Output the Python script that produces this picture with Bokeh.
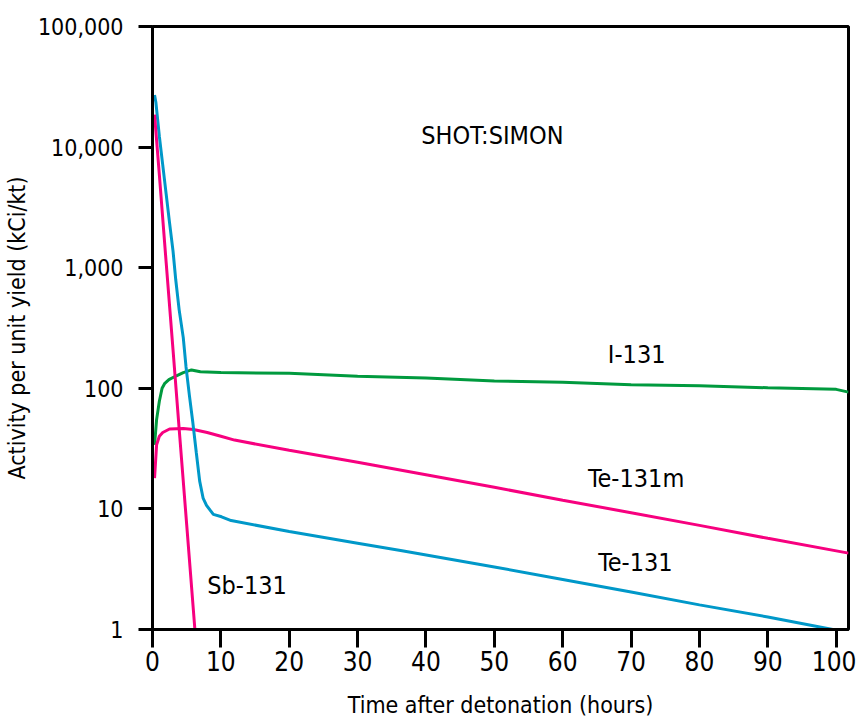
from bokeh.plotting import figure
from bokeh.models import Range1d, FixedTicker, NumeralTickFormatter, Label
from bokeh.embed import file_html
from bokeh.resources import INLINE

# ---- data ----
i131_t = [0.3, 0.6, 1.0, 1.4, 1.8, 2.4, 3.5, 4.5, 5.7, 7.0, 10, 20, 30, 40, 50, 60, 70, 80, 90, 100, 101.8]
i131_v = [34, 55, 78, 100, 110, 118, 127, 135, 142, 137, 135, 133, 126, 122, 115, 112, 107, 105, 101, 98, 93]

te131m_t = [0.3, 0.6, 1.0, 1.5, 2.5, 4.5, 6.0, 8.0, 10, 12, 20, 30, 40, 50, 60, 70, 80, 90, 101.8]
te131m_v = [18, 34, 40, 43, 46, 46.5, 45.5, 43, 40, 37.2, 30.6, 24.4, 19.2, 15.1, 11.8, 9.3, 7.3, 5.7, 4.3]

te131_t = [0.3, 0.5, 1.0, 1.5, 2.0, 2.5, 3.0, 3.4, 3.9, 4.5, 4.9, 5.4, 5.9, 6.4, 6.9, 7.4, 7.9, 8.4, 8.9, 10.1, 11.5, 20, 30, 36.5, 50, 60, 70, 80, 90, 99.5]
te131_v = [27000, 23400, 12300, 7080, 4070, 2340, 1380, 794, 447, 263, 151, 87, 52, 29.5, 17, 12.3, 10.7, 9.8, 9.0, 8.6, 8.0, 6.5, 5.2, 4.5, 3.3, 2.6, 2.05, 1.6, 1.27, 1.0]

sb131_t = [0.3, 1.0, 2.0, 3.0, 4.0, 5.0, 6.2]
sb131_v = [18600, 5900, 1100, 209, 39, 7.4, 1.0]

x_ticks = [0, 10, 20, 30, 40, 50, 60, 70, 80, 90, 100]
y_ticks = [1, 10, 100, 1000, 10000, 100000]

FONT = "DejaVu Sans Condensed, Liberation Sans Narrow, Liberation Sans"
GREEN = "#009a3e"
PINK = "#f7007f"
BLUE = "#0098c9"

p = figure(width=856, height=721, output_backend="svg", toolbar_location=None,
           y_axis_type="log", x_range=Range1d(0, 101.8), y_range=Range1d(1, 100000),
           min_border_left=151, min_border_top=26, min_border_right=8, min_border_bottom=92)
p.background_fill_color = "white"
p.border_fill_color = "white"
p.outline_line_color = "black"
p.outline_line_width = 3
p.grid.visible = False

for ax in (p.xaxis[0], p.yaxis[0]):
    ax.axis_line_width = 3
    ax.major_tick_line_width = 3
    ax.major_tick_in = 0
    ax.minor_tick_line_color = None
    ax.major_label_text_font = FONT
    ax.axis_label_text_font = FONT
    ax.axis_label_text_font_style = "normal"
    ax.major_label_text_color = "black"
    ax.axis_label_text_color = "black"

p.xaxis.ticker = FixedTicker(ticks=x_ticks)
p.xaxis.major_tick_out = 18
p.xaxis.major_label_standoff = 3
p.xaxis.major_label_text_font_size = "26px"
p.xaxis.axis_label = "Time after detonation (hours)"
p.xaxis.axis_label_text_font_size = "23px"
p.xaxis.axis_label_standoff = 18

p.yaxis.ticker = FixedTicker(ticks=y_ticks)
p.yaxis.formatter = NumeralTickFormatter(format="0,0")
p.yaxis.major_tick_out = 14
p.yaxis.major_label_standoff = 15
p.yaxis.major_label_text_font_size = "23px"
p.yaxis.axis_label = "Activity per unit yield (kCi/kt)"
p.yaxis.axis_label_text_font_size = "23px"
p.yaxis.axis_label_standoff = 5

p.line(i131_t, i131_v, line_color=GREEN, line_width=3)
p.line(te131m_t, te131m_v, line_color=PINK, line_width=3)
p.line(te131_t, te131_v, line_color=BLUE, line_width=3)
p.line(sb131_t, sb131_v, line_color=PINK, line_width=3)

labels = [("SHOT:SIMON", 39.3, 12400), ("I-131", 66.6, 189), ("Te-131m", 63.7, 17.9),
          ("Te-131", 65.2, 3.6), ("Sb-131", 8.0, 2.32)]
for txt, lx, ly in labels:
    p.add_layout(Label(x=lx, y=ly, text=txt, text_font=FONT, text_font_size="25px",
                       text_align="left", text_baseline="middle", text_color="black"))

open("out.html", "w").write(file_html(p, INLINE))
